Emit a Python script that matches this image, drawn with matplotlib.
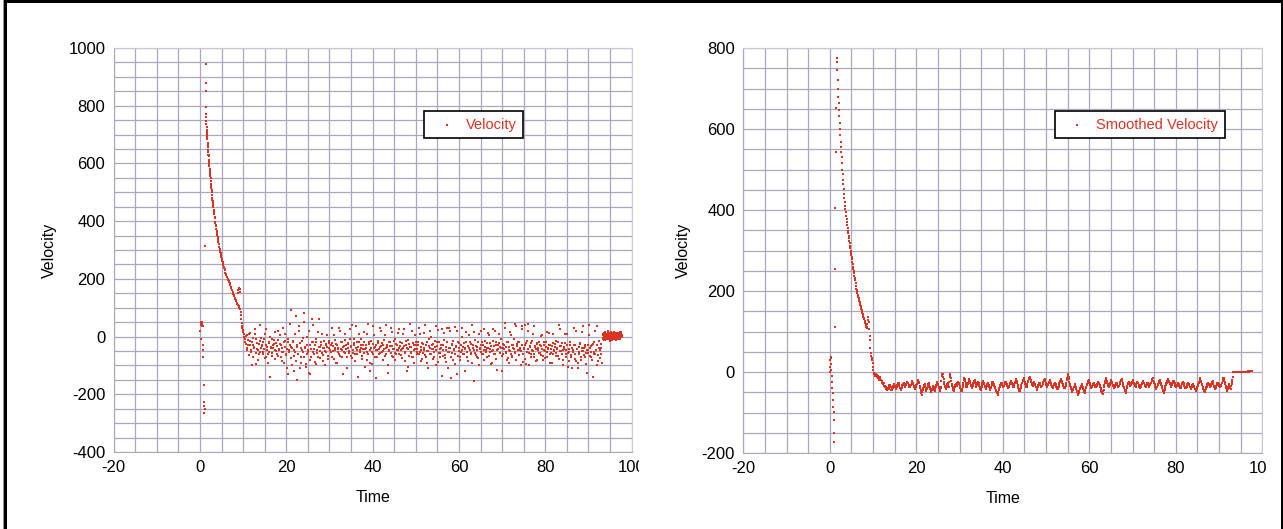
import numpy as np
import matplotlib
matplotlib.use('Agg')
import matplotlib.pyplot as plt
from matplotlib.patches import Rectangle
from matplotlib.transforms import Bbox, TransformedBbox
from matplotlib.ticker import MultipleLocator

plt.rcParams['font.family'] = ['Liberation Sans', 'DejaVu Sans']
plt.rcParams['axes.unicode_minus'] = False  # plain hyphen for negative ticks

# ---------------- raw velocity (left chart) ----------------
# first samples, before the peak
start_t = [0.05, 0.2, 0.3, 0.35, 0.4, 0.45, 0.5, 0.55, 0.6, 0.3, 0.65, 0.75, 0.8, 0.85, 0.95, 1.0, 1.05, 1.1, 1.16]
start_v = [20, 40, 48, 52, 45, 38, 50, 42, 35, -10, -30, -45, -70, -168, -225, -240, -264, -250, 315]

# decay from the peak down to zero (two interleaved runs of samples)
decay_t = [1.32, 1.38, 1.42, 1.47, 1.50, 1.55, 1.60, 1.66, 1.72, 1.79, 1.86, 1.93, 2.00, 2.08, 2.16,
           2.24, 2.33, 2.42, 2.51, 2.60, 2.70, 2.80, 2.91, 3.02, 3.14, 3.26, 3.38, 3.51, 3.64, 3.78,
           3.92, 4.07, 4.22, 4.38, 4.54, 4.71, 4.88, 5.06, 5.24, 5.43, 5.62, 5.82, 6.02, 6.23, 6.44,
           6.66, 6.88, 7.11, 7.34, 7.58, 7.82, 8.06, 8.30, 8.55, 8.75, 8.90, 9.00, 9.10, 9.22, 9.35,
           9.48, 9.60, 9.72, 9.85, 9.98, 10.12, 10.25]
decay_v = [943, 851, 795, 760, 748, 725, 716, 700, 684, 672, 658, 640, 625, 612, 598,
           580, 566, 555, 540, 522, 508, 490, 475, 462, 448, 433, 415, 398, 388, 372,
           358, 345, 333, 320, 305, 292, 282, 268, 258, 248, 238, 230, 218, 208, 200,
           192, 185, 172, 160, 156, 145, 133, 128, 118, 110, 160, 170, 100, 165, 96,
           86, 60, 46, 30, 23, 10, 0]
decay2_t = [1.35, 1.44, 1.52, 1.58, 1.63, 1.69, 1.76, 1.83, 1.90, 1.97, 2.04, 2.12, 2.20, 2.29, 2.38,
            2.47, 2.56, 2.65, 2.75, 2.86, 2.97, 3.08, 3.20, 3.32, 3.45, 3.58, 3.71, 3.85, 4.00, 4.15,
            4.30, 4.46, 4.63, 4.80, 4.97, 5.15, 5.34, 5.53, 5.72, 5.92, 6.13, 6.34, 6.55, 6.77, 7.00,
            7.23, 7.46, 7.70, 7.94, 8.18, 8.42, 8.65, 8.82, 9.05, 9.28, 9.55, 9.80, 10.05]
decay2_v = [880, 770, 735, 710, 705, 690, 665, 668, 645, 630, 628, 605, 590, 575, 560,
            548, 530, 515, 500, 480, 470, 455, 440, 425, 410, 395, 382, 365, 352, 338,
            326, 312, 300, 290, 276, 262, 252, 242, 234, 222, 212, 205, 196, 188, 178,
            168, 160, 148, 140, 130, 122, 112, 150, 105, 155, 75, 35, 15]

# noisy part, one sample every 0.2 s from t = 10.4 and a second run from t = 10.5
noise_t0 = 10.4
noise2_t0 = 10.5
noise_dt = 0.2
noise_v = [
    -8, -25, 5, -40, -12, 10, -30, -55, -18, -5, -70, -35, 8, -95, -22, -48, -60, -15, 40, -38,
    -30, -52, -10, -75, -28, 25, -45, -62, -20, -140, -35, -8, -58, -40, -25, 15, -50, -32, -68, -12,
    -42, 5, -28, -85, -55, -18, -35, 10, -65, -110, -20, -48, -30, 92, -75, -40, -15, -120, -52, 70,
    -35, -150, -60, 35, -22, -90, -45, -5, -70, 50, -38, -105, -28, -55, 20, -80, -130, -42, 60, -18,
    -62, -30, -95, -10, -48, -72, 60, -35, -20, -58, -40, -85, -15, -50, -28, 5, -66, -38, -22, -45,
    -55, 30, -32, -78, -12, -46, -25, -90, -38, -60, 20, -42, -18, -70, -35, -52, 10, -28, -110, -40,
    -22, -58, 25, -36, -75, -48, -10, -30, -62, 35, -45, -140, -20, -52, -38, -8, -68, -28, 15, -44,
    -30, -82, -55, 45, -18, -120, -40, -95, -25, -60, 5, -35, -48, -70, -15, -42, 28, -58, -32, -22,
    -50, -12, -66, -38, 40, -28, -125, -46, -20, -56, -34, 15, -72, -42, -10, -60, -30, -48, 25, -38,
    -20, -64, -44, 10, -32, -85, -52, -15, -40, -105, -26, 45, -58, -36, -70, -22, -48, 5, -30, -62,
    -42, -18, 30, -55, -35, -78, -25, -45, 12, -65, -30, -92, -50, -10, -38, 20, -60, -28, -44, -72,
    -15, 35, -48, -32, -88, -20, -56, -40, 25, -66, -30, -12, -75, -45, 30, -110, -38, -55, 20, -145,
    -25, -80, -42, 32, -60, -35, -130, -18, -50, -70, -28, 0, -45, -62, -22, -38, 15, -55, -32, -85,
    -40, -20, -58, 40, -30, -155, -48, -12, -65, -35, -75, 10, -42, -28, -52, -18, -60, 25, -36, -46,
    -24, -70, -40, 5, -55, -32, -90, -15, -48, -62, 20, -30, -115, -44, -22, -58, -36, -8, -66, -40,
    -28, 48, -52, -35, -80, -18, -45, 15, -60, -30, -72, -40, -10, -55, 35, -25, -48, -65, -20, -38,
    -50, 25, -88, -42, 40, -30, -95, -15, 45, -58, -36, -70, -22, -48, 10, -62, -32, -44, -82, -26,
    -40, -18, -56, -34, 5, -66, -28, -46, -75, -20, -52, -38, 12, -60, -30, -44, -90, -24, -50, -36,
    -58, -14, -42, -68, 40, -32, -50, -22, -80, -46, -36, 8, -62, -28, -105, -44, -54, -20, -70, -38,
    -48, 30, -60, -30, -85, -42, -110, -55, -25, -72, -38, 15, -50, -65, -35, -95, -45, -28, -58, 40,
    -40, -70, -30, -140, -52, -20, -62, -45, 35, -85, -38, -48, -25, -60]
noise2_v = [
    -20, 2, -45, -30, -65, -15, 12, -48, -100, -28, -38, 25, -58, -10, -42, -80, -25, -52, -5, -33,
    -60, -18, -44, 8, -70, -36, -90, -24, -55, 0, -40, -68, -30, -12, -78, -46, -22, -60, 20, -48,
    -25, -72, -38, -55, 30, -90, -15, -62, -42, -130, -8, -55, 45, -35, -100, -20, -68, -45, 10, -85,
    -28, -60, 18, -110, -40, -72, -15, -52, 80, -35, -95, -60, 0, -45, -125, -30, -70, -18, -55, 40,
    -42, -88, -20, -58, 15, -36, -75, -50, -28, 10, -64, -40, -100, -25, -55, -35, -78, -15, -48, -30,
    -70, -22, -50, 5, -38, -92, -28, -55, -44, 30, -66, -20, -48, -130, -34, -58, -12, -42, -72, -26,
    -50, -10, -68, -32, 40, -56, -24, -85, -40, -18, -62, -36, 8, -48, -28, -78, -44, -20, -56, -105,
    -38, 10, -62, -26, -48, -90, -16, -54, 35, -40, -70, -30, -145, -46, -22, -60, -36, 20, -52, -80,
    -28, -44, 5, -62, -36, -100, -20, -50, -32, 30, -68, -42, -15, -56, -82, -26, -46, 12, -60, -34,
    -48, -75, -22, -40, 25, -58, -30, -120, -44, -12, -66, -36, -52, 18, -70, -28, -90, -42, -18, -54,
    -30, -62, 8, -46, -84, -24, -56, -38, 40, -70, -20, -50, -110, -34, -60, 0, -44, -76, -26, -52,
    -36, -100, -18, 22, -58, -42, -70, -28, -135, -48, 12, -64, -36, -88, -20, -52, 30, -40, -72, -30,
    -58, -14, -46, -95, -32, 18, -66, -40, -24, -80, -52, 28, -36, -60, -118, -44, -18, -70, -34, 5,
    -48, -62, -26, -90, -40, 15, -56, -32, -72, -45, -20, -100, -38, 20, -60, -28, -48, -80, -16, -54,
    -38, 12, -68, -44, -24, -95, -50, 25, -34, -60, -18, -78, -46, -30, 10, -56, -40, -120, -26, -62,
    -44, 30, -58, -20, -74, -36, -90, -50, 5, -66, -28, -42, 42, -56, -82, -34, -18, -64, -46, -100,
    -30, 35, -62, -40, -78, -22, -54, 20, -44, -98, -32, -60, -14, -50, 38, -70, -36, -86, -24, -48,
    -56, -30, 2, -64, -42, -82, -20, -50, -36, 15, -70, -44, -28, -92, -58, -34, 8, -62, -46, -26,
    -66, -40, -18, -78, -50, 25, -34, -60, -100, -42, -22, -72, -48, 10, -56, -84, -30, -64, -38, -110,
    -52, -30, -76, 20, -44, -90, -36, -62, -24, -80, -50, 35, -40, -70, -28, -58, -125, -46, 5, -66,
    -34, -55, -80, -25, -60, 20, -45, -100, -30, -65, -15, -75, -40, -90]

# last few seconds, sensor at rest, two interleaved runs every 0.1 s
rest_t0 = 93.3
rest2_t0 = 93.35
rest_dt = 0.1
rest_v = [5, -8, 12, -3, 0, 15, -12, 6, -5, 10, 2, -10, 18, -6, 4, -2, 8, -14, 12, 0,
          -5, 14, 3, -9, 7, -2, 16, -7, 1, 10, -4, 6, -11, 13, -1, 5, 9, -6, 11, 2,
          -8, 15, 4, -3, 7]
rest2_v = [-4, 10, -12, 7, 2, -6, 14, -1, 9, -8, 5, 12, -4, 0, -10, 11, 3, -7, 16, -3,
           8, -12, 5, 1, 13, -6, 2, 10, -9, 4, 14, -2, 7, -5, 11, 0, -8, 12, 3, 6,
           -4, 9, 1, 16, -2]

# ---------------- smoothed velocity (right chart) ----------------
sm_start_t = [0.0, 0.08, 0.14, 0.2, 0.26, 0.32, 0.39, 0.45, 0.52, 0.6, 0.67, 0.74, 0.81, 0.86, 0.91,
              0.97, 1.04, 1.13, 1.2, 1.27, 1.32, 1.36]
sm_start_v = [0, 12, 30, 38, 34, 20, 5, -10, -24, -40, -53, -70, -86, -99, -119,
              -151, -172, 110, 254, 404, 542, 651]

# smooth decay, every 0.08 s from t = 1.55
sm_decay_t0 = 1.55
sm_decay_dt = 0.08
sm_decay_v = [775, 765, 745, 722, 700, 680, 665, 648, 632, 615, 600, 584, 568, 555, 542, 530,
              515, 500, 488, 475, 464, 452, 440, 430, 420, 410, 402, 395, 386, 378, 370, 362,
              355, 348, 342, 336, 330, 324, 318, 312, 306, 300, 295, 289, 284, 278, 272, 266,
              260, 255, 250, 244, 238, 232, 226, 220, 212, 206, 202, 198, 195, 191, 188, 185,
              182, 179, 175, 172, 169, 166, 162, 159, 156, 153, 149, 146, 142, 139, 136, 133,
              130, 127, 124, 121, 118, 116, 112, 108]

sm_bump_t = [8.6, 8.7, 8.8, 8.9, 9.0, 9.1, 9.2, 9.3, 9.4, 9.5, 9.6, 9.7, 9.8, 9.9, 10.0, 10.1, 10.2]
sm_bump_v = [118, 112, 128, 135, 124, 105, 90, 79, 60, 46, 40, 34, 30, 21, 12, 5, -3]

# smoothed noise, every 0.2 s from t = 10.3, plus the samples in between
sm_noise_t0 = 10.3
sm_noise2_t0 = 10.4
sm_noise_dt = 0.2
sm_noise_v = [
    -5, -8, -6, -12, -10, -15, -18, -14, -20, -26, -30, -28, -35, -40, -38, -44, -42, -36, -32, -38,
    -45, -40, -34, -30, -36, -42, -38, -32, -28, -34, -40, -45, -38, -30, -26, -32, -36, -30, -24, -28,
    -34, -38, -32, -28, -22, -30, -36, -42, -38, -30, -26, -20, -28, -40, -48, -56, -44, -36, -30, -38,
    -46, -40, -34, -28, -36, -44, -50, -42, -34, -40, -48, -38, -30, -24, -32, -40, -46, -36, -10, -4,
    -18, -30, -38, -42, -34, -28, -36, -12, -6, -22, -34, -40, -46, -38, -30, -34, -28, -24, -30, -36,
    -42, -48, -38, -28, -14, -22, -32, -38, -30, -24, -18, -26, -34, -40, -32, -26, -20, -28, -36, -30,
    -24, -30, -38, -44, -36, -28, -22, -30, -36, -42, -34, -26, -32, -38, -44, -36, -28, -24, -30, -36,
    -40, -46, -52, -56, -44, -36, -30, -26, -32, -38, -34, -28, -24, -30, -36, -40, -34, -28, -22, -26,
    -32, -38, -30, -24, -18, -26, -34, -42, -48, -40, -32, -26, -20, -14, -24, -32, -38, -30, -22, -16,
    -12, -20, -28, -34, -30, -24, -32, -38, -44, -36, -30, -26, -32, -38, -34, -28, -22, -18, -26, -32,
    -38, -30, -24, -20, -28, -34, -40, -36, -30, -26, -32, -38, -42, -36, -28, -22, -18, -24, -30, -36,
    -40, -34, -26, -14, -6, -18, -30, -38, -44, -50, -42, -36, -30, -38, -46, -52, -56, -48, -40, -34,
    -30, -38, -46, -52, -44, -36, -30, -24, -20, -28, -34, -40, -36, -30, -26, -32, -38, -34, -28, -24,
    -30, -36, -42, -48, -54, -44, -32, -22, -16, -24, -30, -36, -32, -26, -20, -28, -34, -40, -36, -30,
    -26, -32, -38, -34, -28, -22, -18, -26, -34, -40, -46, -52, -40, -30, -24, -28, -34, -30, -24, -20,
    -26, -32, -36, -30, -24, -28, -34, -40, -36, -30, -26, -22, -28, -34, -38, -32, -26, -30, -36, -32,
    -26, -20, -16, -24, -30, -36, -42, -36, -30, -24, -20, -28, -34, -40, -46, -52, -40, -32, -26, -20,
    -18, -24, -30, -36, -32, -26, -22, -28, -34, -38, -32, -26, -30, -36, -40, -34, -28, -24, -30, -36,
    -40, -36, -30, -26, -32, -38, -42, -36, -30, -34, -38, -42, -46, -40, -34, -28, -22, -16, -24, -32,
    -38, -44, -50, -42, -36, -30, -26, -32, -38, -34, -28, -22, -30, -36, -42, -38, -32, -26, -30, -34,
    -38, -32, -26, -20, -14, -24, -34, -40, -46, -38, -30, -36, -42, -30, -20]
sm_noise2_v = [
    -9, -4, -11, -8, -14, -19, -13, -20, -21, -30, -26, -34, -36, -42, -45, -40, -41, -31, -37, -44,
    -40, -39, -30, -35, -41, -37, -33, -28, -33, -39, -44, -40, -32, -29, -31, -35, -31, -25, -28, -33,
    -37, -33, -31, -24, -27, -34, -40, -38, -32, -29, -22, -25, -35, -45, -53, -49, -39, -32, -35, -43,
    -42, -36, -30, -33, -41, -48, -45, -37, -38, -45, -42, -33, -26, -29, -37, -44, -40, -22, -6, -12,
    -25, -35, -41, -37, -30, -33, -24, -8, -15, -29, -38, -44, -41, -33, -33, -30, -25, -28, -34, -40,
    -46, -42, -32, -20, -17, -28, -36, -33, -26, -20, -23, -31, -38, -35, -28, -22, -25, -33, -32, -27,
    -27, -35, -42, -39, -31, -24, -27, -34, -40, -37, -29, -30, -36, -42, -39, -31, -25, -28, -34, -39,
    -44, -50, -55, -49, -39, -32, -27, -30, -36, -35, -30, -25, -28, -34, -39, -36, -30, -24, -23, -30,
    -36, -33, -26, -20, -23, -31, -39, -46, -43, -35, -28, -22, -16, -20, -29, -36, -33, -25, -18, -13,
    -17, -25, -32, -31, -26, -29, -36, -42, -39, -32, -27, -30, -36, -35, -30, -24, -19, -23, -30, -36,
    -33, -26, -21, -25, -32, -38, -37, -32, -27, -30, -36, -41, -38, -31, -24, -19, -22, -28, -34, -39,
    -36, -29, -19, -9, -12, -25, -35, -42, -48, -45, -38, -32, -35, -43, -50, -55, -51, -43, -36, -31,
    -35, -43, -50, -47, -39, -32, -26, -21, -25, -32, -38, -37, -32, -27, -30, -36, -35, -30, -25, -28,
    -33, -40, -46, -52, -48, -37, -26, -18, -21, -28, -34, -33, -28, -22, -25, -32, -38, -37, -32, -27,
    -30, -36, -35, -30, -24, -19, -23, -31, -38, -44, -50, -45, -34, -26, -27, -32, -31, -26, -21, -24,
    -30, -35, -32, -26, -27, -32, -38, -37, -32, -27, -23, -26, -32, -37, -34, -28, -29, -34, -33, -28,
    -22, -17, -21, -28, -34, -40, -38, -32, -26, -21, -25, -32, -38, -44, -50, -45, -35, -28, -22, -19,
    -22, -28, -34, -33, -28, -23, -26, -32, -37, -34, -28, -29, -34, -39, -36, -30, -25, -28, -34, -39,
    -37, -32, -27, -30, -36, -41, -38, -32, -33, -37, -41, -45, -42, -36, -30, -24, -18, -21, -29, -36,
    -42, -48, -45, -38, -32, -27, -30, -36, -35, -30, -24, -27, -34, -40, -39, -34, -28, -29, -33, -37,
    -34, -28, -22, -16, -20, -30, -38, -44, -41, -33, -34, -40, -35, -24, -12]

sm_rest_t0 = 93.3
sm_rest_dt = 0.2
sm_rest_v = [0, 1, 0, 0, 1, 0, -1, 0, 1, 1, 0, 0, 1, 0, 0, 1, 1, 2, 1, 2, 2, 3, 2]


def sampled(t0, dt, values):  # time stamps for evenly sampled values
    return t0 + dt * np.arange(len(values))


raw_t = np.concatenate([start_t, decay_t, decay2_t,
                        sampled(noise_t0, noise_dt, noise_v), sampled(noise2_t0, noise_dt, noise2_v),
                        sampled(rest_t0, rest_dt, rest_v), sampled(rest2_t0, rest_dt, rest2_v)])
raw_v = np.concatenate([start_v, decay_v, decay2_v, noise_v, noise2_v, rest_v, rest2_v])

sm_t = np.concatenate([sm_start_t, sampled(sm_decay_t0, sm_decay_dt, sm_decay_v), sm_bump_t,
                       sampled(sm_noise_t0, sm_noise_dt, sm_noise_v), sampled(sm_noise2_t0, sm_noise_dt, sm_noise2_v),
                       sampled(sm_rest_t0, sm_rest_dt, sm_rest_v)])
sm_v = np.concatenate([sm_start_v, sm_decay_v, sm_bump_v, sm_noise_v, sm_noise2_v, sm_rest_v])

RED = '#dd3322'
GRID = '#a9a9be'
W, H = 1283, 529

fig = plt.figure(figsize=(W / 100, H / 100), dpi=100)
ax1 = fig.add_axes([113.6 / W, 1 - 452 / H, 518 / W, 404 / H])
ax2 = fig.add_axes([743.3 / W, 1 - 453 / H, 519 / W, 405 / H])


def style(ax, ymin, ymax, clip_right, ylabelpad):
    ax.set_xlim(-20, 100)
    ax.set_ylim(ymin, ymax)
    ax.xaxis.set_major_locator(MultipleLocator(20))
    ax.xaxis.set_minor_locator(MultipleLocator(5))
    ax.yaxis.set_major_locator(MultipleLocator(200))
    ax.yaxis.set_minor_locator(MultipleLocator(50))
    ax.grid(True, which='both', color=GRID, linewidth=0.9)
    ax.set_axisbelow(True)
    ax.tick_params(which='both', length=0, labelsize=12)
    ax.tick_params(axis='x', pad=5.5)
    ax.tick_params(axis='y', pad=6)
    for s in ax.spines.values():
        s.set_color('#c8c8d2')
    ax.spines['left'].set_color(GRID)
    ax.spines['bottom'].set_color(GRID)
    ax.set_xlabel('Time', fontsize=11.5, labelpad=11)
    ax.set_ylabel('Velocity', fontsize=11.5, labelpad=ylabelpad)
    leg = ax.legend(loc='upper left', bbox_to_anchor=(0.600, 0.844), borderaxespad=0,
                    fontsize=10.5, frameon=True, fancybox=False, edgecolor='black', framealpha=1,
                    handlelength=2.2, handletextpad=0.2, borderpad=0.45)
    leg.get_frame().set_linewidth(1.2)
    for txt in leg.get_texts():
        txt.set_color(RED)
    # the "100" tick label is cut off at the edge of each panel
    clip = TransformedBbox(Bbox.from_extents(0, 0, clip_right / W, 1), fig.transFigure)
    for lbl in ax.get_xticklabels():
        lbl.set_clip_on(True)
        lbl.set_clip_box(clip)


ax1.scatter(raw_t, raw_v, s=3.5, marker='s', color=RED, linewidths=0, label='Velocity')
ax2.scatter(sm_t, sm_v, s=3, marker='s', color=RED, linewidths=0, label='Smoothed Velocity')

style(ax1, -400, 1000, 638.7, 8.5)
style(ax2, -200, 800, 1267, 8)

# black frame round the picture
fig.add_artist(Rectangle((4 / W, 1 - 3 / H), 1 - 4 / W, 3 / H, transform=fig.transFigure, color='black', lw=0))
fig.add_artist(Rectangle((4 / W, 0), 3 / W, 1, transform=fig.transFigure, color='black', lw=0))
fig.add_artist(Rectangle((3 / W, 0), 1 / W, 1, transform=fig.transFigure, color='#999999', lw=0))
fig.add_artist(Rectangle((1281 / W, 0), 2 / W, 1, transform=fig.transFigure, color='black', lw=0))

fig.savefig('out.png', dpi=100)
